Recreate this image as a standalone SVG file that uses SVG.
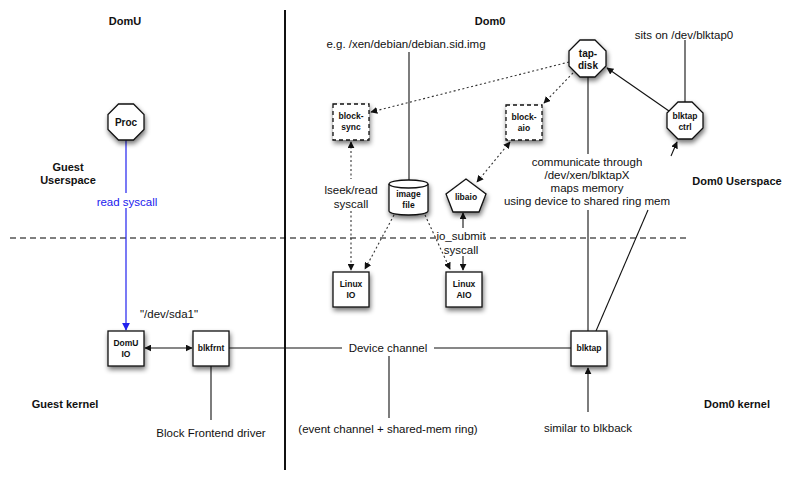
<svg xmlns="http://www.w3.org/2000/svg" width="800" height="478" viewBox="0 0 800 478">
<style>
text{font-family:"Liberation Sans",Arial,sans-serif;fill:#111}
.h{font-size:11px;font-weight:bold;text-anchor:middle}
.l{font-size:11.5px;text-anchor:middle}
.n{font-size:8.5px;font-weight:bold;text-anchor:middle}
.nb{font-size:10px;font-weight:bold;text-anchor:middle}
.shape{fill:#fff;stroke:#111;stroke-width:1.3;filter:url(#sh)}
.dsh{fill:#fff;stroke:#111;stroke-width:1.3;stroke-dasharray:4,3;filter:url(#sh)}
.c{fill:none;stroke:#111;stroke-width:1.1}
.dot{fill:none;stroke:#333;stroke-width:1.1;stroke-dasharray:2,2.5}
</style>
<defs>
<filter id="sh" x="-30%" y="-30%" width="170%" height="170%">
<feGaussianBlur in="SourceAlpha" stdDeviation="2.5"/>
<feOffset dx="1" dy="3" result="b"/>
<feComponentTransfer><feFuncA type="linear" slope="0.55"/></feComponentTransfer>
<feMerge><feMergeNode/><feMergeNode in="SourceGraphic"/></feMerge>
</filter>
<marker id="a" viewBox="0 0 10 10" refX="9" refY="5" markerWidth="7" markerHeight="7" orient="auto-start-reverse" markerUnits="userSpaceOnUse"><path d="M0,0 L10,5 L0,10 z" fill="#111"/></marker>
<marker id="ab" viewBox="0 0 10 10" refX="9" refY="5" markerWidth="8" markerHeight="8" orient="auto" markerUnits="userSpaceOnUse"><path d="M0,0 L10,5 L0,10 z" fill="#2020ee"/></marker>
</defs>

<!-- region separators -->
<g id="regions">
<line x1="285" y1="10" x2="285" y2="470" stroke="#111" stroke-width="2"/>
<line x1="10" y1="238" x2="686" y2="238" stroke="#000" stroke-width="1.2" stroke-dasharray="6,4"/>
<rect x="437" y="229" width="48" height="27" fill="#fff"/>
<text class="h" x="125" y="25">DomU</text>
<text class="h" x="490" y="25">Dom0</text>
<text class="h" x="68" y="171">Guest</text>
<text class="h" x="68" y="184">Userspace</text>
<text class="h" x="737" y="185">Dom0 Userspace</text>
<text class="h" x="65" y="408">Guest kernel</text>
<text class="h" x="737" y="408">Dom0 kernel</text>
</g>

<g id="connectors">
<!-- Proc to DomU IO -->
<line x1="126" y1="140" x2="126" y2="193" stroke="#2020ee" stroke-width="1.2"/>
<line x1="126" y1="208" x2="126" y2="330" stroke="#2020ee" stroke-width="1.2" marker-end="url(#ab)"/>
<text x="127" y="206" text-anchor="middle" style="font-size:11.5px;fill:#2020ee">read syscall</text>
<!-- DomU IO <-> blkfrnt -->
<line x1="145" y1="348" x2="192" y2="348" class="c" marker-start="url(#a)" marker-end="url(#a)"/>
<text class="l" x="169" y="318">"/dev/sda1"</text>
<!-- blkfrnt driver label -->
<line x1="211" y1="366" x2="211" y2="420" class="c"/>
<text class="l" x="211" y="437">Block Frontend driver</text>
<!-- Device channel -->
<line x1="229" y1="348" x2="342" y2="348" class="c"/>
<line x1="434" y1="348" x2="571" y2="348" class="c"/>
<text class="l" x="388" y="352">Device channel</text>
<line x1="389" y1="356" x2="389" y2="418" class="c"/>
<text class="l" x="388" y="433">(event channel + shared-mem ring)</text>
<!-- similar to blkback -->
<line x1="588" y1="412" x2="588" y2="368" class="c" marker-end="url(#a)"/>
<text class="l" x="588" y="432">similar to blkback</text>
<!-- tap-disk to blktap -->
<line x1="588" y1="77" x2="588" y2="154" class="c"/>
<line x1="588" y1="210" x2="588" y2="331" class="c"/>
<text class="l" x="587" y="166">communicate through</text>
<text class="l" x="587" y="179">/dev/xen/blktapX</text>
<text class="l" x="587" y="192">maps memory</text>
<text class="l" x="587" y="205">using device to shared ring mem</text>
<!-- blktap to blktap ctrl -->
<line x1="596" y1="331" x2="648" y2="210" class="c"/>
<line x1="671" y1="156" x2="677" y2="142" class="c" marker-end="url(#a)"/>
<!-- blktap ctrl to tap-disk -->
<line x1="669" y1="111" x2="607" y2="68" class="c" marker-end="url(#a)"/>
<!-- sits on -->
<line x1="685" y1="102" x2="685" y2="40" class="c"/>
<text class="l" x="684" y="39">sits on /dev/blktap0</text>
<!-- tap-disk to block-sync / block-aio -->
<line x1="569" y1="62" x2="371" y2="112" class="dot" marker-end="url(#a)"/>
<line x1="573" y1="73" x2="544" y2="103" class="dot" marker-end="url(#a)"/>
<!-- block-sync <-> Linux IO -->
<line x1="351" y1="142" x2="351" y2="179" class="dot" marker-start="url(#a)"/>
<line x1="351" y1="211" x2="351" y2="270" class="dot" marker-end="url(#a)"/>
<text class="l" x="351" y="194">lseek/read</text>
<text class="l" x="351" y="208">syscall</text>
<!-- image file label -->
<line x1="409" y1="52" x2="409" y2="181" class="c" stroke="#555"/>
<text class="l" x="406" y="48">e.g. /xen/debian/debian.sid.img</text>
<!-- image file to Linux IO / AIO -->
<line x1="394" y1="215" x2="365" y2="269" class="dot" marker-end="url(#a)"/>
<line x1="425" y1="215" x2="450" y2="269" class="dot" marker-end="url(#a)"/>
<!-- block-aio <-> libaio -->
<line x1="510" y1="142" x2="477" y2="182" class="dot" marker-start="url(#a)" marker-end="url(#a)"/>
<!-- libaio <-> Linux AIO -->
<line x1="463" y1="213" x2="463" y2="228" class="c" marker-start="url(#a)"/>
<line x1="463" y1="256" x2="463" y2="270" class="c" marker-end="url(#a)"/>
<text class="l" x="461" y="240">io_submit</text>
<text class="l" x="461" y="254">syscall</text>
</g>

<g id="proc"><polygon class="shape" points="118.5,104 133.5,104 144,114.5 144,129.5 133.5,140 118.5,140 108,129.5 108,114.5"/><text class="nb" x="126" y="126">Proc</text></g>
<g id="domu-io"><rect class="shape" x="108" y="331" width="36" height="35"/><text class="n" x="126" y="346">DomU</text><text class="n" x="126" y="357">IO</text></g>
<g id="blkfrnt"><rect class="shape" x="193" y="331" width="36" height="35"/><text class="n" x="211" y="351">blkfrnt</text></g>
<g id="blktap"><rect class="shape" x="571" y="331" width="36" height="35"/><text class="n" x="589" y="351">blktap</text></g>
<g id="tap-disk"><polygon class="shape" points="580,40 595,40 606,51 606,66 595,77 580,77 569,66 569,51"/><text class="nb" x="588" y="57">tap-</text><text class="nb" x="588" y="69">disk</text></g>
<g id="blktap-ctrl"><polygon class="shape" points="678,102 692,102 703,113 703,128 692,139 678,139 667,128 667,113"/><text class="n" x="685" y="119">blktap</text><text class="n" x="685" y="130">ctrl</text></g>
<g id="block-sync"><rect class="dsh" x="333" y="104" width="36" height="36"/><text class="n" x="351" y="119">block-</text><text class="n" x="351" y="130">sync</text></g>
<g id="block-aio"><rect class="dsh" x="506" y="105" width="36" height="35"/><text class="n" x="524" y="120">block-</text><text class="n" x="524" y="131">aio</text></g>
<g id="image-file"><path class="shape" d="M389,184 A19.5,4 0 0 1 428,184 L428,211 A19.5,4 0 0 1 389,211 Z"/><path d="M389,184 A19.5,4 0 0 0 428,184" fill="none" stroke="#111" stroke-width="1.3"/><text class="n" x="408.5" y="197">image</text><text class="n" x="408.5" y="208">file</text></g>
<g id="libaio"><polygon class="shape" points="466,179 486,194 479,212 453,212 446,194"/><text class="n" x="466" y="200">libaio</text></g>
<g id="linux-io"><rect class="shape" x="333" y="272" width="36" height="35"/><text class="n" x="351" y="287">Linux</text><text class="n" x="351" y="298">IO</text></g>
<g id="linux-aio"><rect class="shape" x="446" y="272" width="36" height="35"/><text class="n" x="464" y="287">Linux</text><text class="n" x="464" y="298">AIO</text></g>
</svg>
